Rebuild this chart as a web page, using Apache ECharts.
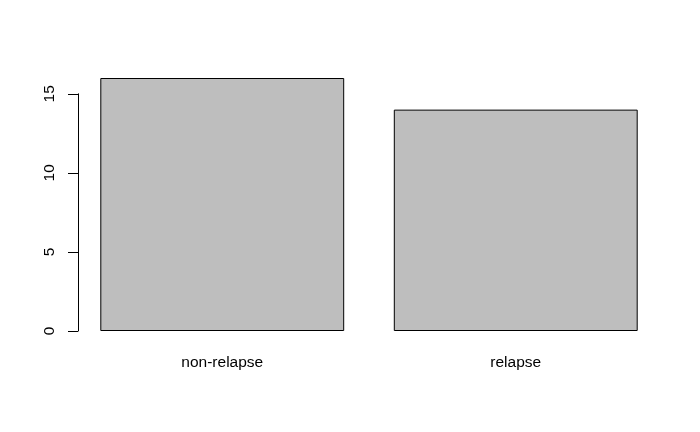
<!DOCTYPE html>
<html><head><meta charset="utf-8">
<script src="https://cdn.jsdelivr.net/npm/echarts@6/dist/echarts.min.js"></script>
<style>html,body{margin:0;padding:0;background:#fff}#c{width:700px;height:432px}</style>
</head><body><div id="c"></div>
<script>
const categories = ['non-relapse', 'relapse'];
const counts = [16, 14];
const yTicks = [0, 5, 10, 15];

const chart = echarts.init(document.getElementById('c'), null, {renderer: 'canvas'});
chart.setOption({
  animation: false,
  backgroundColor: '#ffffff',
  grid: [
    {left: 75.5, width: 587, top: 78, bottom: 101},
    {left: 78, width: 10, top: 93.8, bottom: 101}
  ],
  xAxis: [
    {type: 'category', gridIndex: 0, data: categories,
     axisLine: {show: false}, axisTick: {show: false},
     axisLabel: {color: '#000', fontFamily: 'Liberation Sans, Arial', fontSize: 15.5, margin: 24}},
    {type: 'category', gridIndex: 1, data: [''], show: false}
  ],
  yAxis: [
    {type: 'value', gridIndex: 0, min: 0, max: 16, show: false},
    {type: 'value', gridIndex: 1, min: yTicks[0], max: yTicks[yTicks.length - 1], interval: 5,
     splitLine: {show: false},
     axisLine: {show: true, lineStyle: {color: '#000', width: 1}},
     axisTick: {show: true, length: 10, lineStyle: {color: '#000', width: 1}},
     axisLabel: {rotate: 90, color: '#000', fontFamily: 'Liberation Sans, Arial', fontSize: 15.5, margin: 20,
                 formatter: v => yTicks.includes(v) ? String(v) : ''}}
  ],
  series: [{
    type: 'bar', xAxisIndex: 0, yAxisIndex: 0,
    data: counts,
    barCategoryGap: '16.9%',
    itemStyle: {color: '#bebebe', borderColor: '#000', borderWidth: 1}
  }]
});
</script></body></html>
